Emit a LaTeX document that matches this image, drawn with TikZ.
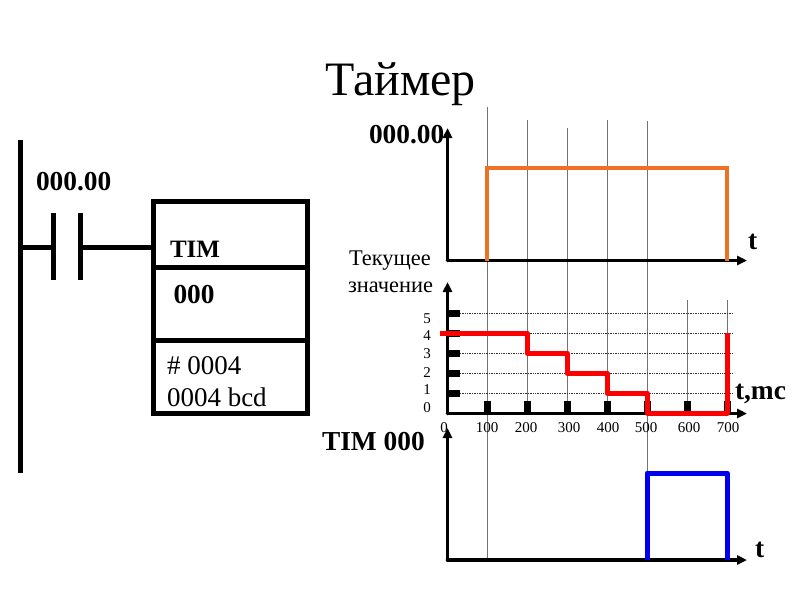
\documentclass[tikz,border=0pt]{standalone}
\usepackage{fontspec}
\setmainfont{Liberation Serif}
\usetikzlibrary{arrows.meta}
\tikzset{
  lbl/.style={inner sep=0pt,outer sep=0pt,anchor=base west},
  big/.style={lbl,font=\fontsize{27.4}{27.4}\selectfont\bfseries},
  rung/.style={line width=5pt,black},
  tall/.style={line width=5pt,black,line cap=butt},
  axis/.style={line width=3.7pt,black,-{Triangle[length=10pt,width=9pt]},line cap=round},
  guide/.style={line width=0.6pt,black!55},
  gridl/.style={line width=0.7pt,black!80,densely dotted},
  tickm/.style={line width=7pt,black},
  ticklab/.style={inner sep=0pt,anchor=base,font=\fontsize{15}{15}\selectfont},
  cyr/.style={lbl,font=\fontsize{22.4}{22.4}\selectfont},
}
\begin{document}
\begin{tikzpicture}[x=1pt,y=-1pt]
\useasboundingbox (0,0) rectangle (800,600);
\fill[white] (0,0) rectangle (800,600);
\node[lbl,font=\fontsize{48}{48}\selectfont] (title) at (325,95) {Таймер};

% ladder diagram
\coordinate (railTop) at (20.5,140);
\coordinate (railBot) at (20.5,473);
\draw[tall] (railTop) -- (railBot);
\coordinate (rungL) at (20.5,247);
\coordinate (cA) at (53.5,247);
\coordinate (cB) at (80.5,247);
\coordinate (boxL) at (153,247);
\draw[rung] (rungL) -- (cA);
\draw[rung] (cB) -- (boxL);
\draw[tall] (53.5,213) -- (53.5,280);
\draw[tall] (80.5,213) -- (80.5,280);
\draw[line width=5pt,black] (153,201) rectangle (307,413);
\draw[rung] (153,267) -- (307,267);
\draw[rung] (153,340.5) -- (307,340.5);
\node[big] (contact) at (36,190) {000.00};
\node[big,font=\fontsize{25}{25}\selectfont\bfseries] (tim) at (170,257) {TIM};
\node[big] (num) at (173.5,303) {000};
\node[lbl,font=\fontsize{27}{27}\selectfont] (pre) at (167,374) {\#\hspace{0.25em}0004};
\node[lbl,font=\fontsize{27}{27}\selectfont] (bcd) at (167,406) {0004 bcd};

% vertical guides
\draw[guide] (487,107) -- (487,560);
\draw[guide] (527,120) -- (527,412);
\draw[guide] (567,128) -- (567,412);
\draw[guide] (607,120) -- (607,412);
\draw[guide] (647,121) -- (647,473);
\draw[guide] (687,300) -- (687,412);
\draw[guide] (727,300) -- (727,412);

% top chart
\draw[axis] (447.5,260.5) -- (447.5,128);
\draw[axis] (447.5,260.5) -- (747,260.5);
\draw[line width=3.2pt,color={rgb,255:red,237;green,114;blue,36},line join=miter] (487,260.5) -- (487,168) -- (727,168) -- (727,260.5);
\node[big] (sig) at (369,143) {000.00};
\node[big] (t1) at (748,249) {t};

% middle chart
\foreach \yy in {313,333,353,373,393}{
  \draw[gridl] (460,\yy) -- (733,\yy);
  \draw[tickm] (447.5,\yy) -- (460,\yy);
}
\foreach \xx in {487,527,567,607,647,687,727}{
  \draw[tickm] (\xx,400.5) -- (\xx,413.5);
}
\draw[axis] (447.5,413.5) -- (447.5,282);
\draw[axis] (447.5,413.5) -- (747,413.5);
\draw[line width=5pt,color={rgb,255:red,255;green,0;blue,0},line join=round]
  (440,333) -- (527,333) -- (527,353) -- (567,353) -- (567,373) -- (607,373) -- (607,393) -- (647,393) -- (647,413) -- (727,413) -- (727,333);
\node[cyr] (cur1) at (349,265) {Текущее};
\node[cyr] (cur2) at (348,292) {значение};
\node[big] (tmc) at (735,399) {t,mc};
\foreach \lab/\yy in {5/323,4/340,3/358,2/377,1/394,0/412}{
  \node[ticklab] at (427,\yy) {\lab};
}
\foreach \lab/\xx in {0/444,100/487,200/526,300/569,400/608,500/646,600/689,700/728}{
  \node[ticklab] at (\xx,432.5) {\lab};
}

% bottom chart
\draw[axis] (447.5,560) -- (447.5,428);
\draw[axis] (447.5,560) -- (747,560);
\draw[line width=5pt,color={rgb,255:red,0;green,0;blue,240},line join=round] (647,560) -- (647,473) -- (727,473) -- (727,560);
\node[big] (tout) at (322,450) {TIM 000};
\node[big] (t3) at (755,557) {t};
\end{tikzpicture}
\end{document}
